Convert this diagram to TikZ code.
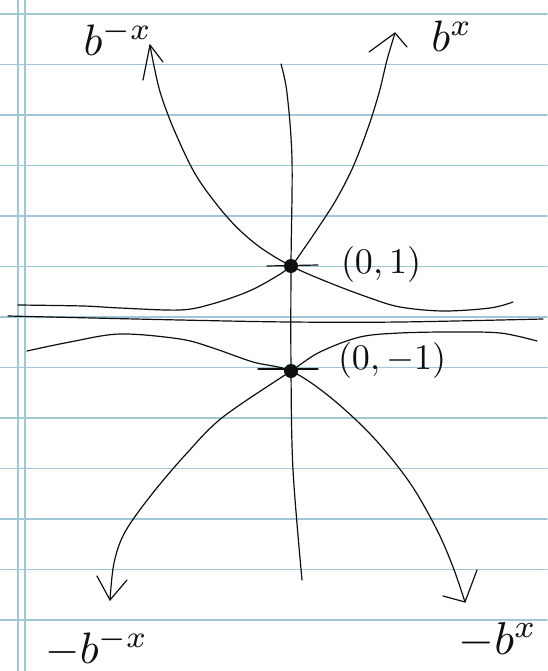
\documentclass[tikz,border=0pt]{standalone}
\usepackage{amsmath,amssymb}
\usepackage{graphicx}
\usepackage{tikz}
\usetikzlibrary{arrows.meta,positioning}
\definecolor{ruleB}{RGB}{158,200,214}
\definecolor{inkK}{RGB}{15,15,15}
\newcommand{\bigmath}[2]{\scalebox{#1}{$#2$}}

\begin{document}
\begin{tikzpicture}[x=1pt, y=-1pt, line cap=round, line join=round,
  rule/.style={ruleB, line width=1.8pt},
  ink/.style={inkK, line width=1.2pt},
  curve/.style={ink, smooth, tension=0.55},
  dot/.style={circle, fill=inkK, inner sep=0pt, minimum size=14pt},
  lbl/.style={inkK, inner sep=0pt}]

  \useasboundingbox (0,0) rectangle (547,671);
  \fill[white] (0,0) rectangle (547,671);

  % ruled paper
  \foreach \k in {0,...,12}
    \draw[rule] (0,{14+50.5*\k}) -- (547,{14+50.5*\k});
  \draw[rule] (18,0) -- (18,671);
  \draw[rule] (25,0) -- (25,671);

  % the two points
  \node[dot] (p1) at (291,266) {};
  \node[dot] (p2) at (291,371) {};

  % axes
  \draw[curve] plot coordinates {(281,64) (287,93) (292,160) (p1.center) (p2.center) (293,470) (302,580)};
  \draw[curve] plot coordinates {(8,316) (180,320) (290,322) (400,322) (543,319)};

  % b^x
  \draw[curve] plot coordinates {(18,305) (83,306) (120,308) (180,310) (212,304) (247,292)
      (272,279) (p1.center) (303,250) (318,228) (336,200) (353,167) (368,128) (379,93) (387,60) (395,33)};
  % b^{-x}
  \draw[curve] plot coordinates {(150,45) (154,66) (161,95) (175,132) (197,177) (228,218)
      (257,245) (p1.center) (330,283) (370,298) (400,307) (443,311) (490,308) (513,302)};
  % -b^x
  \draw[curve] plot coordinates {(27,351) (70,342) (120,334) (180,339) (213,348) (253,362)
      (p2.center) (330,397) (373,437) (410,483) (437,530) (453,567) (465,602)};
  % -b^{-x}
  \draw[curve] plot coordinates {(110,600) (114,563) (125,532) (152,494) (187,453) (223,417)
      (p2.center) (320,352) (360,337) (400,333) (450,332) (500,333) (537,341)};

  % hand drawn arrow heads
  \draw[ink] (143,80) -- (150,45) -- (163,62);
  \draw[ink] (369,52) -- (395,33) -- (407,47);
  \draw[ink] (97,576) -- (110,600) -- (127,580);
  \draw[ink] (443,596) -- (465,602) -- (477,570);

  % ticks through the points
  \draw[ink] (267,266) -- (318,265);
  \draw[ink] (258,369) -- (318,369);

  % labels
  \node[lbl] (lbmx) at (118,38) {\bigmath{4.4}{b^{-x}}};
  \node[lbl] (lbx) at (452,36) {\bigmath{4.4}{b^{x}}};
  \node[lbl] (lnbmx) at (97,648) {\bigmath{4.4}{-b^{-x}}};
  \node[lbl] (lnbx) at (498,640) {\bigmath{4.6}{-b^{x}}};
  \node[lbl] (l01) at (381,264) {\bigmath{3.6}{(0,1)}};
  \node[lbl] (l0m1) at (392,360) {\bigmath{3.6}{(0,-1)}};
\end{tikzpicture}
\end{document}
